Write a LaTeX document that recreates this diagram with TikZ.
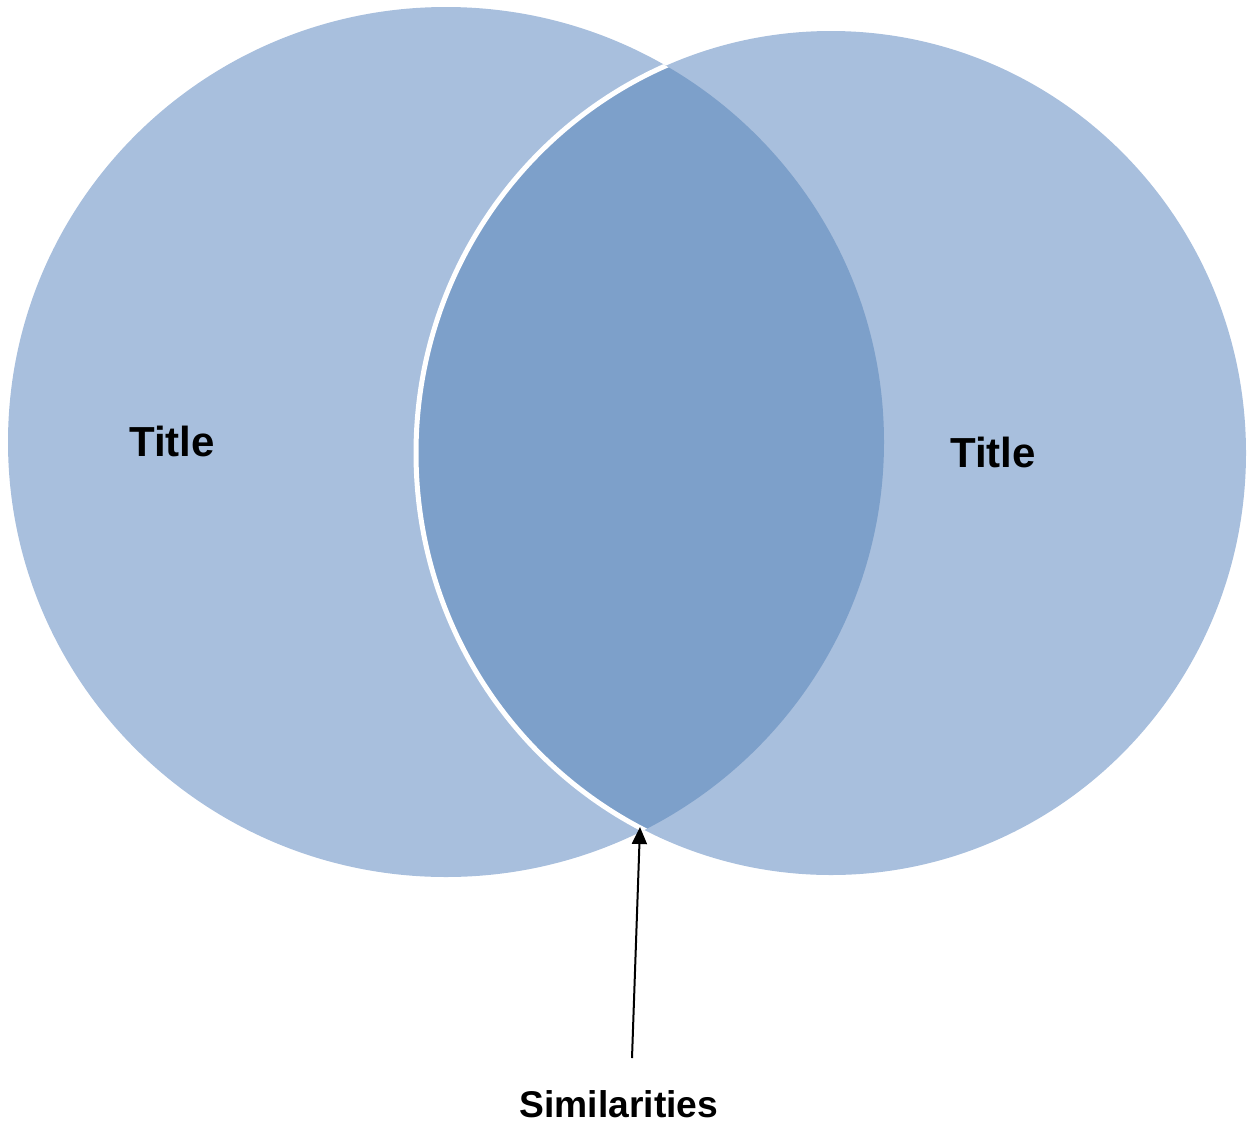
\documentclass[tikz,border=0pt]{standalone}
\usepackage{fontspec}
\setmainfont{Liberation Sans}
\usetikzlibrary{arrows.meta}
\definecolor{lightblue}{HTML}{A8BFDD}
\definecolor{darkblue}{HTML}{7DA0CA}
\tikzset{
  setfill/.style={fill=lightblue, draw=none},
  titlelabel/.style={font=\bfseries\fontsize{21}{24}\selectfont, text=black, inner sep=0pt},
  simlabel/.style={font=\bfseries\fontsize{18.6}{22}\selectfont, text=black, inner sep=0pt},
  pointer/.style={line width=1pt, -{Triangle[length=8.5pt,width=7.5pt]}}
}
\begin{document}
\begin{tikzpicture}[x=0.5pt,y=-0.5pt]
\useasboundingbox (0,0) rectangle (1252,1125);
% left and right sets
\fill[setfill] (446,442) ellipse [x radius=438, y radius=435];
\fill[setfill] (831,453) ellipse [x radius=415, y radius=422];
% overlap
\begin{scope}
  \clip (446,442) ellipse [x radius=438, y radius=435];
  \fill[darkblue] (831,453) ellipse [x radius=415, y radius=422];
  \draw[white, line width=2.5pt] (831,453) ellipse [x radius=415, y radius=422];
\end{scope}
% labels
\node[titlelabel] (left) at (172,441) {Title};
\node[titlelabel] (right) at (993,452) {Title};
\node[simlabel] (sim) at (619,1104) {Similarities};
\coordinate (tail) at (632,1058);
\coordinate (tip) at (640,827);
\draw[pointer] (tail) -- (tip);
\end{tikzpicture}
\end{document}
